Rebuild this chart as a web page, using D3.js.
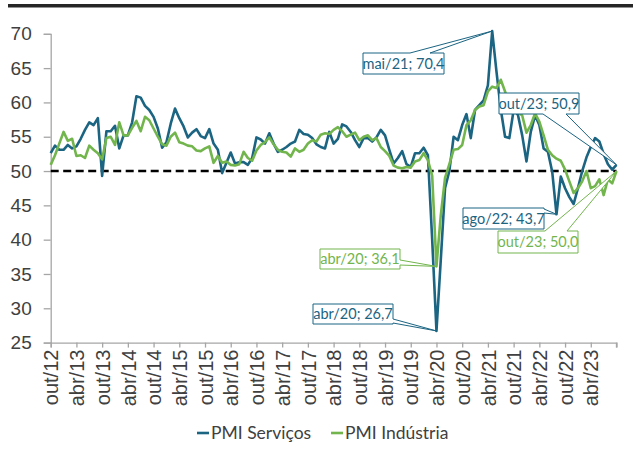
<!DOCTYPE html>
<html>
<head>
<meta charset="utf-8">
<script src="https://cdn.jsdelivr.net/npm/d3@7"></script>
<style>
  body { margin: 0; background: #fff; }
  svg { display: block; font-family: Lato, "Open Sans", sans-serif; }
</style>
</head>
<body>
<svg id="chart" width="633" height="452"></svg>
<script>
// month names, first month out/12, last out/23
var monthNames = ['jan', 'fev', 'mar', 'abr', 'mai', 'jun', 'jul', 'ago', 'set', 'out', 'nov', 'dez'];
var tickLabels = ['out/12', 'abr/13', 'out/13', 'abr/14', 'out/14', 'abr/15', 'out/15', 'abr/16',
  'out/16', 'abr/17', 'out/17', 'abr/18', 'out/18', 'abr/19', 'out/19', 'abr/20', 'out/20',
  'abr/21', 'out/21', 'abr/22', 'out/22', 'abr/23'];
var yTicks = [25, 30, 35, 40, 45, 50, 55, 60, 65, 70];

var servicos = [
  52.6, 53.7, 53.1, 53.1, 53.8, 53.3, 53.6, 54.7, 56.0, 57.1, 56.7, 57.7,
  49.3, 55.8, 55.8, 56.6, 53.3, 55.2, 55.2, 57.1, 60.9, 60.7, 59.5, 58.9,
  57.9, 56.2, 53.4, 54.2, 56.9, 59.1, 57.7, 56.5, 54.9, 55.6, 56.1, 55.1,
  54.8, 56.1, 54.0, 53.1, 49.7, 51.2, 52.7, 51.1, 51.3, 51.3, 50.9, 51.9,
  54.9, 54.6, 54.0, 55.5, 54.0, 52.8, 53.1, 53.5, 54.0, 54.3, 56.0, 55.4,
  55.3, 54.8, 53.9, 53.5, 53.3, 55.7, 54.0, 54.7, 56.8, 56.5, 55.7, 54.5,
  53.5, 54.8, 54.8, 54.3, 54.9, 56.0, 55.2, 53.1, 51.1, 51.9, 52.9, 51.0,
  50.6, 52.6, 52.6, 53.4, 52.3, 40.0, 26.7, 37.0, 47.5, 50.0, 55.0, 54.5,
  56.7, 58.3, 54.8, 58.9, 59.6, 60.3, 62.5, 70.4, 64.5, 59.0, 55.0, 54.8,
  58.9, 58.2, 55.2, 51.4, 55.7, 58.1, 56.7, 53.3, 52.8, 49.9, 43.7, 49.2,
  47.5, 46.2, 45.2, 47.5, 50.0, 52.0, 53.5, 54.8, 54.3, 52.5, 51.0, 50.2,
  50.9
];

var industria = [
  50.9, 52.3, 54.0, 55.7, 54.4, 54.7, 52.2, 52.3, 51.9, 53.7, 53.1, 52.6,
  51.7, 54.8, 55.0, 53.8, 57.1, 55.2, 55.2, 56.3, 57.3, 55.8, 57.9, 57.4,
  56.2, 55.0, 53.9, 53.7, 55.0, 55.6, 54.2, 54.0, 53.7, 53.6, 53.0, 52.9,
  53.3, 53.6, 51.2, 52.2, 51.2, 51.4, 50.9, 50.8, 51.0, 52.8, 51.9, 51.5,
  53.0, 53.8, 54.2, 54.9, 53.9, 53.1, 52.8, 52.7, 52.1, 53.3, 52.8, 53.1,
  54.0, 54.5, 54.3, 55.3, 55.5, 55.4, 56.0, 56.4, 55.8, 55.0, 55.3, 55.6,
  54.5, 55.0, 55.2, 54.5, 54.8, 53.5, 52.9, 52.2, 50.8, 50.5, 50.4, 50.6,
  50.5, 51.4, 51.6, 52.6, 51.6, 49.3, 36.1, 43.5, 49.0, 51.0, 53.1, 53.2,
  53.8, 56.7, 57.4, 58.9, 59.4, 59.6, 61.6, 62.3, 62.1, 63.3, 61.6, 59.6,
  58.7, 58.6, 58.1, 55.6, 56.7, 58.4, 57.2, 55.2, 53.1, 52.3, 51.8, 51.5,
  50.2, 48.5, 46.8, 47.5, 48.5, 50.0, 47.5, 47.8, 48.8, 46.5, 48.8, 48.2,
  50.0
];

var months = servicos.map(function (d, i) {
  var m = 9 + i;
  return monthNames[m % 12] + '/' + String(12 + Math.floor(m / 12));
});

var blue = '#1b6482';
var green = '#72b54d';

var series = [
  {name: 'PMI Serviços', values: servicos, color: blue},
  {name: 'PMI Indústria', values: industria, color: green}
];

// callout boxes: which series/month, where the box sits, which edge the pointer leaves from
var callouts = [
  {s: 0, month: 'mai/21', box: [363, 53, 81, 21], side: 'top', t: [47, 67]},
  {s: 0, month: 'out/23', box: [499, 93, 80, 21], side: 'bottom', t: [44, 67]},
  {s: 0, month: 'ago/22', box: [463, 208, 81, 21], side: 'right', t: [1, 5]},
  {s: 1, month: 'out/23', box: [498, 231, 80, 22], side: 'top', t: [47, 69]},
  {s: 1, month: 'abr/20', box: [320, 249, 80, 20], side: 'right', t: [11, 16]},
  {s: 0, month: 'abr/20', box: [313, 304, 80, 20], side: 'right', t: [15, 19]}
];

var svg = d3.select('#chart');

var x = d3.scalePoint()
  .domain(d3.range(months.length))
  .range([50.7, 616.5]);

var y = d3.scaleLinear()
  .domain([25, 70])
  .range([342.6, 33.8]);

// thick rule at the top
svg.append('rect')
  .attr('x', 8).attr('y', 4)
  .attr('width', 625).attr('height', 3.5)
  .attr('fill', '#262626');

// y axis
var yAxis = svg.append('g')
  .attr('transform', 'translate(50.7,0)')
  .call(d3.axisLeft(y).tickValues(yTicks).tickSize(7).tickPadding(12).tickFormat(d3.format('d')));
yAxis.select('.domain').attr('stroke', '#a6a6a6').attr('stroke-width', 1.3);
yAxis.selectAll('.tick line').attr('stroke', '#a6a6a6').attr('stroke-width', 1.3);
yAxis.selectAll('.tick text')
  .attr('fill', '#404040')
  .style('font-size', '19px');

// x axis
var xTickIdx = tickLabels.map(function (t) { return months.indexOf(t); });
var xAxis = svg.append('g')
  .attr('transform', 'translate(0,' + y(25) + ')')
  .call(d3.axisBottom(x).tickValues(xTickIdx).tickSize(5)
    .tickFormat(function (d) { return months[d]; }));
xAxis.select('.domain').attr('stroke', '#a6a6a6').attr('stroke-width', 1.3);
xAxis.selectAll('.tick line').attr('stroke', '#a6a6a6').attr('stroke-width', 1.3);
xAxis.selectAll('.tick text')
  .attr('transform', 'rotate(-90)')
  .attr('text-anchor', 'end')
  .attr('x', -7)
  .attr('y', 0)
  .attr('dy', '0.36em')
  .attr('fill', '#404040')
  .style('font-size', '20px');
// last tick at out/23, no label
xAxis.append('line')
  .attr('x1', x(months.length - 1)).attr('x2', x(months.length - 1))
  .attr('y1', 0).attr('y2', 5)
  .attr('stroke', '#a6a6a6').attr('stroke-width', 1.3);

// reference line at 50
svg.append('line')
  .attr('x1', x(0)).attr('x2', x(months.length - 1))
  .attr('y1', y(50)).attr('y2', y(50))
  .attr('stroke', '#000')
  .attr('stroke-width', 2.5)
  .attr('stroke-dasharray', '8,4.5');

var line = d3.line()
  .x(function (d, i) { return x(i); })
  .y(function (d) { return y(d); });

series.forEach(function (s) {
  svg.append('path')
    .datum(s.values)
    .attr('fill', 'none')
    .attr('stroke', s.color)
    .attr('stroke-width', 2.6)
    .attr('stroke-linejoin', 'round')
    .attr('d', line);
});

function calloutPath (b, side, t, px, py) {
  var x0 = b[0], y0 = b[1], w = b[2], h = b[3];
  var p = [];
  if (side === 'top') {
    p = [[x0, y0], [x0 + t[0], y0], [px, py], [x0 + t[1], y0], [x0 + w, y0], [x0 + w, y0 + h], [x0, y0 + h]];
  } else if (side === 'bottom') {
    p = [[x0, y0], [x0 + w, y0], [x0 + w, y0 + h], [x0 + t[1], y0 + h], [px, py], [x0 + t[0], y0 + h], [x0, y0 + h]];
  } else {
    p = [[x0, y0], [x0 + w, y0], [x0 + w, y0 + t[0]], [px, py], [x0 + w, y0 + t[1]], [x0 + w, y0 + h], [x0, y0 + h]];
  }
  return 'M' + p.join('L') + 'Z';
}

callouts.forEach(function (c) {
  var s = series[c.s];
  var i = months.indexOf(c.month);
  var v = s.values[i];
  svg.append('path')
    .attr('d', calloutPath(c.box, c.side, c.t, x(i), y(v)))
    .attr('fill', '#fff')
    .attr('stroke', s.color)
    .attr('stroke-width', 1);
  svg.append('text')
    .attr('x', c.box[0] + c.box[2] / 2)
    .attr('y', c.box[1] + c.box[3] / 2)
    .attr('dy', '0.35em')
    .attr('text-anchor', 'middle')
    .attr('fill', s.color)
    .style('font-size', '14.5px')
    .text(c.month + '; ' + d3.format('.1f')(v).replace('.', ','));
});

// legend
var legend = svg.append('g').attr('transform', 'translate(0,433)');
var legendX = [197, 331];
series.forEach(function (s, k) {
  legend.append('line')
    .attr('x1', legendX[k]).attr('x2', legendX[k] + 12)
    .attr('y1', 0).attr('y2', 0)
    .attr('stroke', s.color)
    .attr('stroke-width', 2.6);
  legend.append('text')
    .attr('x', legendX[k] + 14)
    .attr('y', 0)
    .attr('dy', '0.35em')
    .attr('fill', '#404040')
    .style('font-size', '17.5px')
    .text(s.name);
});
</script>
</body>
</html>
